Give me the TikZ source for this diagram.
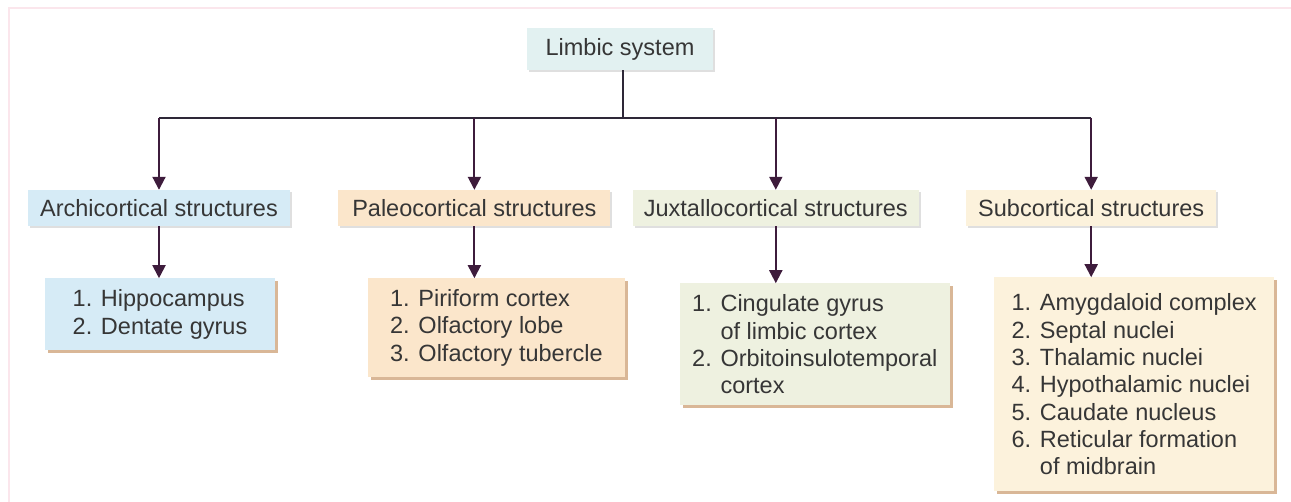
\documentclass[tikz,border=0pt]{standalone}
\usepackage{fontspec}
\setmainfont{Liberation Sans}
\usetikzlibrary{positioning,arrows.meta,shadows}

\definecolor{inkgray}{HTML}{363636}
\definecolor{linedark}{HTML}{2E2838}
\definecolor{arrowpurple}{HTML}{3E1C3C}
\definecolor{framepink}{HTML}{FBE6EC}
\definecolor{tanshadow}{HTML}{D9B797}
\definecolor{rootfill}{HTML}{E2F1F1}
\definecolor{archifill}{HTML}{D6EBF6}
\definecolor{paleofill}{HTML}{FBE6CB}
\definecolor{juxtafill}{HTML}{EEF1E0}
\definecolor{subfill}{HTML}{FCF2DC}

\begin{document}
\begin{tikzpicture}[
        x=1pt, y=-1pt,
        font=\fontsize{23.5}{27.3}\selectfont,
        text=inkgray,
        >={Triangle[length=13pt,width=13pt]},
        rootbox/.style={
            fill=rootfill,
            minimum width=186pt,
            minimum height=42pt,
            inner sep=0pt,
            drop shadow={shadow xshift=2pt, shadow yshift=-2pt, fill=gray!25, opacity=1}
        },
        groupbox/.style={
            minimum height=36pt,
            inner sep=0pt,
            drop shadow={shadow xshift=2pt, shadow yshift=-2pt, fill=gray!25, opacity=1}
        },
        listbox/.style={
            align=left,
            inner sep=0pt,
            drop shadow={shadow xshift=3pt, shadow yshift=-3pt, fill=tanshadow, opacity=1}
        },
        arrow/.style={
            ->,
            draw=arrowpurple,
            line width=2pt
        },
        node distance=50pt
    ]

    \useasboundingbox (0,0) rectangle (1291,502);

    % Rahmen
    \draw[framepink, line width=2.5pt] (9,502) -- (9,8) -- (1291,8);

    % Wurzel
    \node[rootbox] (root) at (620,49) {Limbic system};

    % Zweite Reihe
    \node[groupbox, fill=archifill, minimum width=262pt] (archi) at (159,208)
        {Archicortical structures};
    \node[groupbox, fill=paleofill, minimum width=272pt, right=48pt of archi] (paleo)
        {Paleocortical structures};
    \node[groupbox, fill=juxtafill, minimum width=286pt, right=22pt of paleo] (juxta)
        {Juxtallocortical structures};
    \node[groupbox, fill=subfill, minimum width=250pt, right=47pt of juxta] (subcort)
        {Subcortical structures};

    % Dritte Reihe
    \node[listbox, fill=archifill, minimum width=230pt, minimum height=72pt,
        below=52pt of archi, xshift=1pt] (hippo) {
        1. Hippocampus\\
        2. Dentate gyrus
    };
    \node[listbox, fill=paleofill, minimum width=257pt, minimum height=99pt,
        below=52pt of paleo, xshift=22pt] (piriform) {
        1. Piriform cortex\\
        2. Olfactory lobe\\
        3. Olfactory tubercle
    };
    \node[listbox, fill=juxtafill, minimum width=270pt, minimum height=122pt,
        below=57pt of juxta, xshift=39pt] (cingulate) {
        1. Cingulate gyrus\\
        \phantom{1. }of limbic cortex\\
        2. Orbitoinsulotemporal\\
        \phantom{2. }cortex
    };
    \node[listbox, fill=subfill, minimum width=280pt, minimum height=214pt,
        below=51pt of subcort, xshift=43pt] (amyg) {
        1. Amygdaloid complex\\
        2. Septal nuclei\\
        3. Thalamic nuclei\\
        4. Hypothalamic nuclei\\
        5. Caudate nucleus\\
        6. Reticular formation\\
        \phantom{6. }of midbrain
    };

    % Linien
    \coordinate (bus) at (623,118);
    \draw[linedark, line width=2pt] (root.south -| bus) -- (bus);
    \draw[linedark, line width=2pt] (archi.north |- bus) -- (subcort.north |- bus);

    % Pfeile
    \draw[arrow] (archi.north |- bus) -- (archi.north);
    \draw[arrow] (paleo.north |- bus) -- (paleo.north);
    \draw[arrow] (juxta.north |- bus) -- (juxta.north);
    \draw[arrow] (subcort.north |- bus) -- (subcort.north);
    \draw[arrow] (archi.south) -- (archi.south |- hippo.north);
    \draw[arrow] (paleo.south) -- (paleo.south |- piriform.north);
    \draw[arrow] (juxta.south) -- (juxta.south |- cingulate.north);
    \draw[arrow] (subcort.south) -- (subcort.south |- amyg.north);

\end{tikzpicture}
\end{document}
